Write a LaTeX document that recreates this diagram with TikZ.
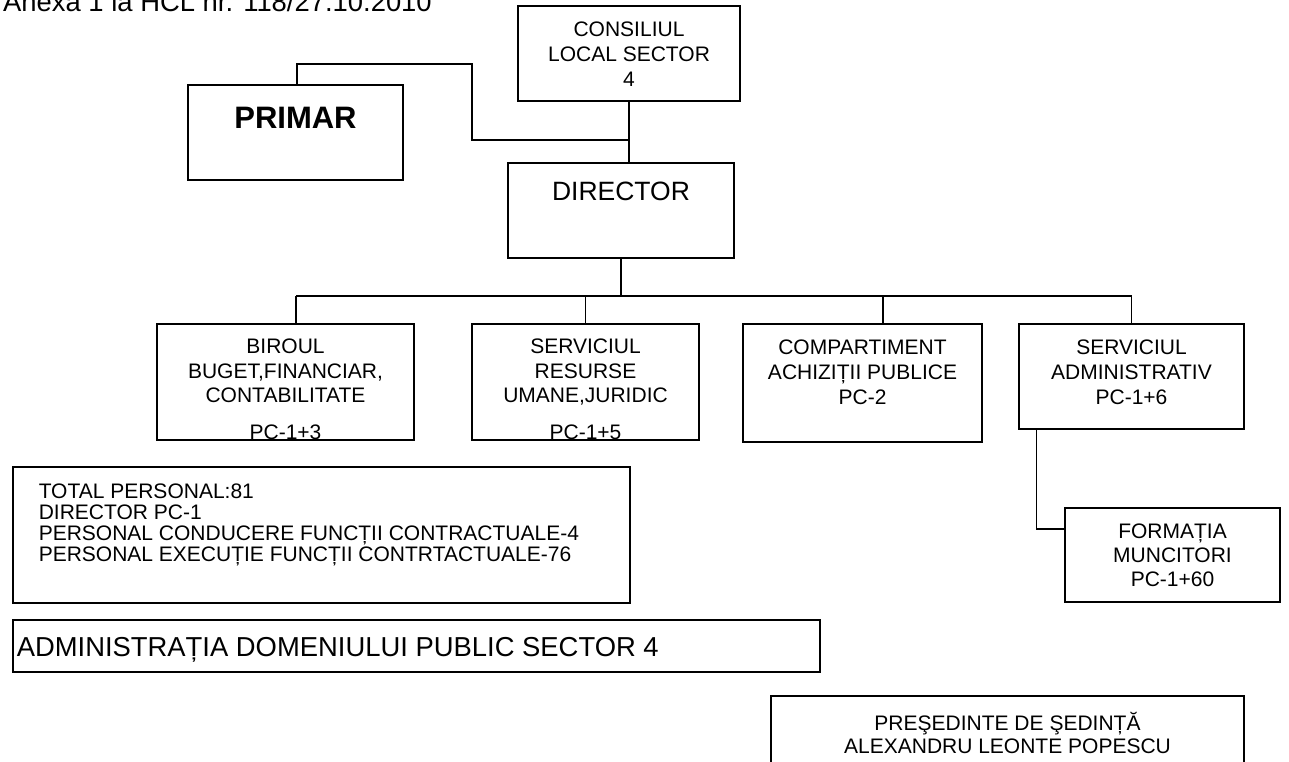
\documentclass[tikz,border=0pt]{standalone}
\usepackage{fontspec}
\setmainfont{Liberation Sans}
\usepackage{tikz}
\usetikzlibrary{positioning}
\tikzset{unit/.style={draw, line width=1.5pt, inner sep=0pt},
	txt/.style={inner sep=0pt, align=center, font=\fontsize{21}{25}\selectfont},
	link/.style={line width=1.4pt}}

\begin{document}
\begin{tikzpicture}[x=1pt, y=-1pt]
		\useasboundingbox (0,0) rectangle (1289,761);
		% title
		\node[anchor=base west, inner sep=0pt, font=\fontsize{27.4}{30}\selectfont] (anexa) at (3,11) {Anexa 1 la HCL nr. 118/27.10.2010};
		% boxes
		\node[unit, minimum width=222pt, minimum height=95pt] (cons) at (629,53.5) {};
		\node[unit, minimum width=215pt, minimum height=95pt] (primar) at (295.5,132.5) {};
		\node[unit, minimum width=226pt, minimum height=95pt] (dir) at (621,210.5) {};
		\node[unit, minimum width=257pt, minimum height=116pt] (birou) at (285.5,382) {};
		\node[unit, minimum width=227pt, minimum height=116pt] (resurse) at (585.5,382) {};
		\node[unit, minimum width=239pt, minimum height=118pt] (achiz) at (862.5,383) {};
		\node[unit, minimum width=225pt, minimum height=105pt] (admin) at (1131.5,376.5) {};
		\node[unit, minimum width=215pt, minimum height=94pt] (form) at (1172.5,555) {};
		\node[unit, minimum width=617pt, minimum height=136pt] (total) at (321.3,535) {};
		\node[unit, minimum width=807pt, minimum height=52pt] (adp) at (416.3,646) {};
		\node[unit, minimum width=473pt, minimum height=94pt] (pres) at (1007.5,743) {};
		% texts
		\node[txt, below=16.5pt of cons.north] {CONSILIUL\\LOCAL SECTOR\\4};
		\node[txt, below=23pt of primar.north, font=\fontsize{31}{33}\selectfont\bfseries] {PRIMAR};
		\node[txt, below=19.5pt of dir.north, font=\fontsize{26.5}{30}\selectfont] {DIRECTOR};
		\begin{scope}
			\clip (birou.south west) rectangle (birou.north east);
			\node[txt, below=15.5pt of birou.north, font=\fontsize{21}{24.5}\selectfont] {BIROUL\\BUGET,FINANCIAR,\\CONTABILITATE\\[12pt]PC-1+3};
		\end{scope}
		\begin{scope}
			\clip (resurse.south west) rectangle (resurse.north east);
			\node[txt, below=15.5pt of resurse.north, font=\fontsize{21}{24.5}\selectfont] {SERVICIUL\\RESURSE\\UMANE,JURIDIC\\[12pt]PC-1+5};
		\end{scope}
		\node[txt, below=16.5pt of achiz.north] {COMPARTIMENT\\ACHIZIȚII PUBLICE\\PC-2};
		\node[txt, below=16.5pt of admin.north] {SERVICIUL\\ADMINISTRATIV\\PC-1+6};
		\node[txt, below=16.5pt of form.north, font=\fontsize{21}{24}\selectfont] {FORMAȚIA\\MUNCITORI\\PC-1+60};
		\node[txt, align=left, below right=17.5pt and 26.5pt of total.north west, font=\fontsize{21}{21}\selectfont] {TOTAL PERSONAL:81\\DIRECTOR PC-1\\PERSONAL CONDUCERE FUNCȚII CONTRACTUALE-4\\PERSONAL EXECUȚIE FUNCȚII CONTRTACTUALE-76};
		\node[txt, align=left, below right=18pt and 4.5pt of adp.north west, font=\fontsize{27.4}{30}\selectfont] {ADMINISTRAȚIA DOMENIULUI PUBLIC SECTOR 4};
		\node[txt, below=16.5pt of pres.north, font=\fontsize{21}{23}\selectfont] {PREŞEDINTE DE ŞEDINȚĂ\\ALEXANDRU LEONTE POPESCU};
		% connectors
		\coordinate (bend) at (472,64);
		\coordinate (meet) at (629,140);
		\coordinate (busL) at (296,296);
		\coordinate (busR) at (1132,296);
		\draw[-, link] (cons.south) -- (cons.south |- dir.north);
		\draw[-, link] ([xshift=1.5pt]primar.north) |- (bend) |- (meet);
		\draw[-, link] (dir.south) -- (dir.south |- busL);
		\draw[-, link] (busL) -- (busR);
		\foreach \b/\dx in {birou/10.5, resurse/0, achiz/20.5, admin/0}
			\draw[-, link] ([xshift=\dx pt]\b.north) -- ([xshift=\dx pt]\b.north |- busL);
		\draw[-, link] ([xshift=18pt]admin.south west) |- ([yshift=26pt]form.west);
\end{tikzpicture}
\end{document}
